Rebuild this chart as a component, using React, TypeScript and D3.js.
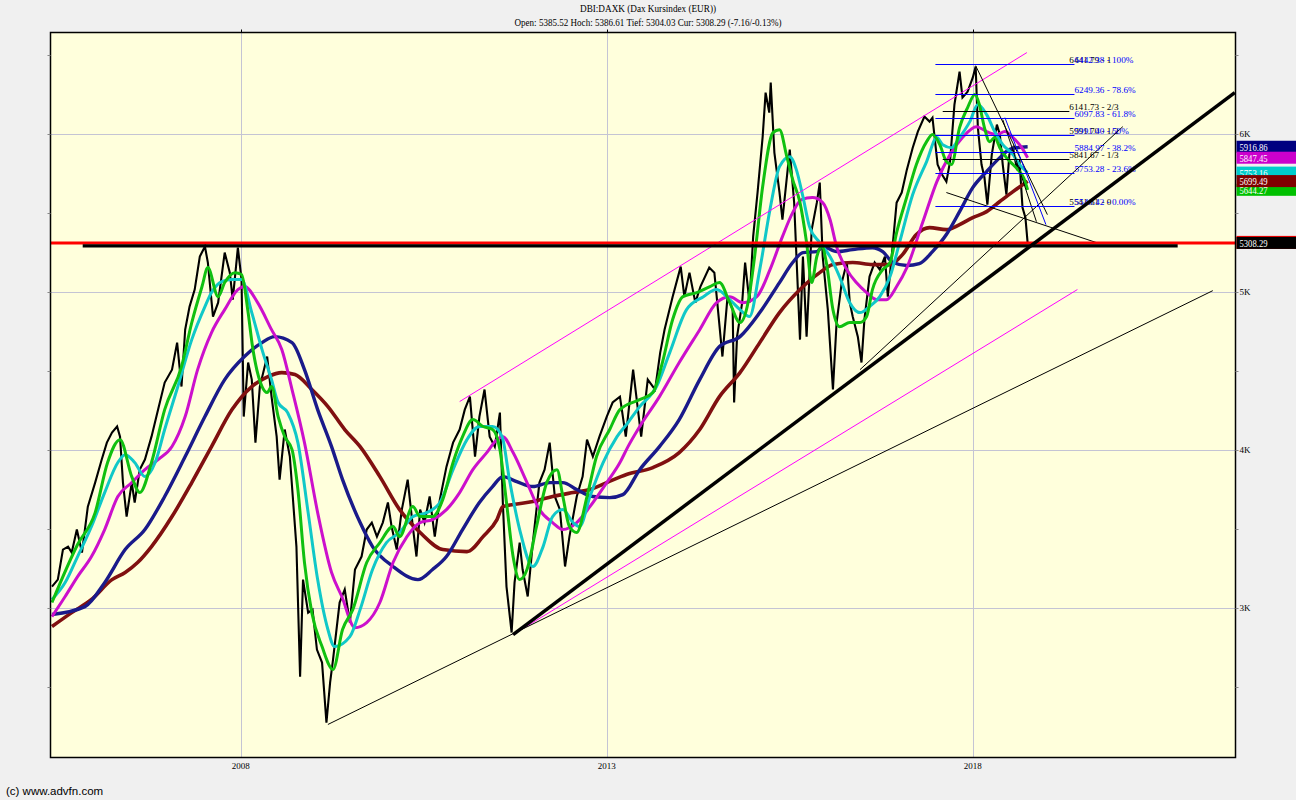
import { useEffect, useRef } from "react";
import * as d3 from "d3";

type Pt = [number, number];

// header texts
const titleLine = "DBI:DAXK (Dax Kursindex (EUR))";
const quoteLine = "Open: 5385.52 Hoch: 5386.61 Tief: 5304.03 Cur: 5308.29 (-7.16/-0.13%)";

// axis ticks
const yearTicks = [2008, 2013, 2018];
const gridValues = [3000, 4000, 5000, 6000];
const tickLabels = ["3K", "4K", "5K", "6K"];
const minorValues = [2500, 3000, 3500, 4000, 4500, 5000, 5500, 6000, 6500];

// price path [year, index points]
const price: Pt[] = [
  [2005.42, 3133], [2005.50, 3177], [2005.57, 3367], [2005.64, 3386], [2005.69, 3348], [2005.76, 3494],
  [2005.83, 3348], [2005.91, 3639], [2006.01, 3791], [2006.10, 3937], [2006.17, 4044], [2006.24, 4108],
  [2006.31, 4146], [2006.35, 4082], [2006.39, 3791], [2006.44, 3576], [2006.51, 3791], [2006.55, 3665],
  [2006.62, 3873], [2006.69, 3937], [2006.78, 4082], [2006.87, 4253], [2006.96, 4424], [2007.06, 4506],
  [2007.13, 4677], [2007.19, 4399], [2007.24, 4760], [2007.30, 4905], [2007.37, 5013], [2007.44, 5222],
  [2007.51, 5285], [2007.55, 5184], [2007.62, 4842], [2007.69, 4930], [2007.78, 5247], [2007.85, 5120],
  [2007.89, 4949], [2007.96, 5278], [2008.01, 5076], [2008.04, 4209], [2008.10, 4551], [2008.15, 4443],
  [2008.20, 4044], [2008.26, 4399], [2008.36, 4589], [2008.42, 4335], [2008.49, 4082], [2008.53, 3810],
  [2008.60, 4127], [2008.67, 3956], [2008.71, 3703], [2008.76, 3386], [2008.81, 2563], [2008.85, 3177],
  [2008.92, 2968], [2008.98, 2987], [2009.04, 2734], [2009.11, 2652], [2009.17, 2272], [2009.22, 2525],
  [2009.26, 2671], [2009.35, 3032], [2009.42, 3114], [2009.49, 2905], [2009.56, 3241], [2009.65, 3323],
  [2009.72, 3494], [2009.79, 3538], [2009.86, 3449], [2009.94, 3538], [2010.01, 3665], [2010.06, 3513],
  [2010.13, 3367], [2010.20, 3620], [2010.28, 3810], [2010.35, 3513], [2010.40, 3323], [2010.45, 3620],
  [2010.51, 3538], [2010.58, 3703], [2010.65, 3449], [2010.72, 3684], [2010.81, 3892], [2010.90, 4044],
  [2010.99, 4127], [2011.06, 4253], [2011.13, 4335], [2011.20, 3956], [2011.26, 4209], [2011.33, 4380],
  [2011.40, 4082], [2011.47, 4019], [2011.54, 4234], [2011.58, 3665], [2011.63, 3133], [2011.70, 2842],
  [2011.74, 3158], [2011.81, 3411], [2011.85, 3241], [2011.92, 3070], [2011.99, 3411], [2012.08, 3791],
  [2012.15, 3873], [2012.22, 4044], [2012.29, 3703], [2012.36, 3620], [2012.43, 3260], [2012.49, 3449],
  [2012.59, 3703], [2012.67, 3829], [2012.73, 4063], [2012.81, 3956], [2012.90, 4082], [2013.00, 4209],
  [2013.08, 4298], [2013.18, 4335], [2013.26, 4082], [2013.36, 4506], [2013.47, 4082], [2013.56, 4443],
  [2013.66, 4380], [2013.73, 4614], [2013.79, 4760], [2013.90, 4968], [2014.01, 5158], [2014.06, 4968],
  [2014.13, 5120], [2014.21, 4930], [2014.28, 5032], [2014.40, 5152], [2014.47, 5120], [2014.51, 4930],
  [2014.58, 4589], [2014.65, 4968], [2014.72, 4886], [2014.74, 4298], [2014.78, 4715], [2014.85, 4930],
  [2014.89, 5184], [2014.95, 4930], [2015.00, 5348], [2015.06, 5627], [2015.13, 5981], [2015.17, 6259],
  [2015.22, 6133], [2015.24, 6323], [2015.29, 5880], [2015.36, 5627], [2015.40, 5456], [2015.50, 5899],
  [2015.56, 5563], [2015.64, 4696], [2015.68, 5222], [2015.73, 4715], [2015.80, 5392], [2015.87, 5563],
  [2015.91, 5690], [2015.95, 5222], [2016.02, 4886], [2016.09, 4380], [2016.14, 4804], [2016.21, 5057],
  [2016.28, 5184], [2016.32, 4930], [2016.36, 4842], [2016.43, 4715], [2016.48, 4551], [2016.52, 4823],
  [2016.59, 5095], [2016.66, 5184], [2016.73, 5139], [2016.80, 5222], [2016.84, 4968], [2016.91, 5310],
  [2016.96, 5563], [2017.03, 5627], [2017.10, 5772], [2017.18, 5911], [2017.25, 6013], [2017.34, 6108],
  [2017.41, 6076], [2017.45, 6101], [2017.52, 5804], [2017.58, 5741], [2017.64, 5696], [2017.69, 5823],
  [2017.75, 6184], [2017.82, 6392], [2017.86, 6228], [2017.93, 6266], [2018.00, 6354], [2018.04, 6424],
  [2018.07, 6038], [2018.12, 5804], [2018.16, 5722], [2018.20, 5551], [2018.26, 5867], [2018.33, 6057],
  [2018.37, 5994], [2018.41, 5804], [2018.46, 5614], [2018.50, 5867], [2018.55, 5911], [2018.60, 5785],
  [2018.64, 5823], [2018.68, 5532], [2018.72, 5468], [2018.75, 5308],
];

// moving averages
const maGreen: Pt[] = [
  [2005.42, 3032], [2005.77, 3399], [2006.01, 3601], [2006.18, 3918], [2006.35, 4063], [2006.51, 3829],
  [2006.62, 3728], [2006.78, 3918], [2006.96, 4253], [2007.19, 4525], [2007.33, 4804], [2007.47, 5032],
  [2007.55, 5152], [2007.69, 4968], [2007.78, 5057], [2007.92, 5120], [2008.01, 5108], [2008.10, 4867],
  [2008.16, 4652], [2008.29, 4399], [2008.36, 4361], [2008.42, 4399], [2008.51, 4209], [2008.60, 4082],
  [2008.70, 4000], [2008.78, 3747], [2008.87, 3285], [2008.97, 2968], [2009.11, 2753], [2009.26, 2608],
  [2009.39, 2861], [2009.53, 2987], [2009.72, 3285], [2009.90, 3411], [2010.08, 3513], [2010.17, 3449],
  [2010.35, 3639], [2010.45, 3576], [2010.62, 3576], [2010.76, 3684], [2010.90, 3918], [2011.03, 4082],
  [2011.17, 4190], [2011.31, 4146], [2011.44, 4127], [2011.54, 4000], [2011.63, 3665], [2011.72, 3323],
  [2011.81, 3177], [2011.91, 3241], [2012.04, 3513], [2012.18, 3791], [2012.32, 3873], [2012.40, 3703],
  [2012.49, 3513], [2012.59, 3475], [2012.73, 3703], [2012.86, 3956], [2013.04, 4127], [2013.18, 4253],
  [2013.45, 4316], [2013.63, 4361], [2013.76, 4551], [2013.90, 4823], [2014.04, 4968], [2014.23, 4994],
  [2014.41, 5032], [2014.54, 5057], [2014.68, 4930], [2014.82, 4804], [2014.93, 4930], [2015.02, 5222],
  [2015.13, 5665], [2015.27, 6006], [2015.36, 6025], [2015.46, 5854], [2015.54, 5709], [2015.64, 5563],
  [2015.73, 5310], [2015.80, 5057], [2015.87, 5222], [2015.94, 5285], [2016.00, 5184], [2016.09, 4886],
  [2016.18, 4778], [2016.32, 4804], [2016.46, 4804], [2016.55, 4842], [2016.63, 5013], [2016.77, 5139],
  [2016.87, 5184], [2016.96, 5373], [2017.10, 5601], [2017.23, 5804], [2017.37, 5949], [2017.45, 5994],
  [2017.55, 5930], [2017.64, 5823], [2017.71, 5804], [2017.82, 6038], [2017.93, 6165], [2018.03, 6247],
  [2018.09, 6184], [2018.16, 6038], [2018.23, 5949], [2018.30, 5975], [2018.37, 5911], [2018.46, 5848],
  [2018.55, 5804], [2018.64, 5760], [2018.70, 5715], [2018.75, 5644],
];

const maCyan: Pt[] = [
  [2005.42, 3051], [2005.60, 3158], [2005.77, 3323], [2005.96, 3513], [2006.14, 3728], [2006.32, 3918],
  [2006.42, 3968], [2006.55, 3918], [2006.69, 3829], [2006.83, 3918], [2006.96, 4127], [2007.14, 4399],
  [2007.33, 4696], [2007.51, 4905], [2007.60, 4994], [2007.74, 5063], [2007.88, 5076], [2008.01, 5076],
  [2008.15, 4867], [2008.29, 4633], [2008.42, 4443], [2008.51, 4298], [2008.64, 4234], [2008.78, 4044],
  [2008.92, 3601], [2009.05, 3177], [2009.19, 2861], [2009.28, 2753], [2009.49, 2816], [2009.63, 2987],
  [2009.80, 3241], [2009.99, 3411], [2010.17, 3475], [2010.35, 3576], [2010.54, 3601], [2010.72, 3665],
  [2010.90, 3873], [2011.09, 4063], [2011.26, 4146], [2011.44, 4146], [2011.57, 4082], [2011.67, 3810],
  [2011.81, 3494], [2011.99, 3260], [2012.13, 3386], [2012.26, 3576], [2012.40, 3620], [2012.54, 3538],
  [2012.63, 3513], [2012.77, 3703], [2012.95, 3918], [2013.14, 4082], [2013.29, 4171], [2013.45, 4272],
  [2013.68, 4399], [2013.86, 4614], [2014.09, 4886], [2014.32, 4968], [2014.50, 5013], [2014.68, 4949],
  [2014.82, 4886], [2014.95, 4842], [2015.09, 5139], [2015.23, 5519], [2015.36, 5791], [2015.50, 5854],
  [2015.59, 5772], [2015.68, 5601], [2015.77, 5411], [2015.91, 5310], [2016.05, 5222], [2016.18, 5095],
  [2016.32, 4930], [2016.46, 4867], [2016.59, 4905], [2016.73, 4968], [2016.87, 5095], [2017.00, 5310],
  [2017.18, 5614], [2017.37, 5823], [2017.51, 5975], [2017.59, 5930], [2017.71, 5911], [2017.82, 5975],
  [2017.96, 6076], [2018.07, 6184], [2018.19, 6120], [2018.30, 6013], [2018.41, 5930], [2018.55, 5867],
  [2018.64, 5804], [2018.75, 5753],
];

const maMagenta: Pt[] = [
  [2005.42, 2943], [2005.60, 3070], [2005.77, 3196], [2005.96, 3323], [2006.14, 3494], [2006.32, 3703],
  [2006.51, 3791], [2006.69, 3873], [2006.87, 3937], [2007.06, 4019], [2007.24, 4209], [2007.41, 4506],
  [2007.60, 4741], [2007.78, 4886], [2007.96, 5013], [2008.05, 5032], [2008.23, 4930], [2008.42, 4759],
  [2008.56, 4633], [2008.70, 4380], [2008.87, 4044], [2009.05, 3601], [2009.24, 3222], [2009.38, 3070],
  [2009.56, 2873], [2009.72, 2905], [2009.90, 3032], [2010.08, 3285], [2010.27, 3449], [2010.45, 3538],
  [2010.62, 3557], [2010.81, 3620], [2010.99, 3728], [2011.17, 3873], [2011.36, 3981], [2011.50, 4063],
  [2011.58, 4082], [2011.72, 3981], [2011.91, 3791], [2012.08, 3620], [2012.26, 3538], [2012.40, 3494],
  [2012.59, 3538], [2012.77, 3639], [2013.00, 3791], [2013.18, 3918], [2013.29, 4019], [2013.45, 4146],
  [2013.72, 4335], [2013.99, 4551], [2014.27, 4759], [2014.50, 4930], [2014.68, 4968], [2014.86, 4930],
  [2015.05, 4968], [2015.23, 5139], [2015.40, 5348], [2015.54, 5500], [2015.66, 5582], [2015.81, 5595],
  [2015.95, 5563], [2016.05, 5456], [2016.14, 5285], [2016.28, 5139], [2016.41, 5057], [2016.55, 4994],
  [2016.69, 4949], [2016.82, 4949], [2016.96, 5032], [2017.10, 5152], [2017.32, 5443], [2017.51, 5696],
  [2017.69, 5867], [2017.86, 5975], [2018.05, 6044], [2018.19, 6013], [2018.33, 5994], [2018.44, 6013],
  [2018.55, 5975], [2018.67, 5911], [2018.75, 5847],
];

const maNavy: Pt[] = [
  [2005.42, 2956], [2005.87, 3006], [2006.14, 3158], [2006.42, 3367], [2006.69, 3494], [2006.96, 3703],
  [2007.24, 3956], [2007.51, 4209], [2007.78, 4443], [2008.05, 4589], [2008.29, 4677], [2008.46, 4715],
  [2008.70, 4677], [2008.87, 4506], [2009.05, 4253], [2009.24, 4019], [2009.39, 3810], [2009.63, 3538],
  [2009.80, 3386], [2010.08, 3260], [2010.42, 3177], [2010.62, 3241], [2010.81, 3323], [2011.03, 3494],
  [2011.26, 3665], [2011.44, 3766], [2011.58, 3829], [2011.77, 3797], [2011.99, 3766], [2012.22, 3791],
  [2012.40, 3791], [2012.59, 3747], [2012.81, 3703], [2013.04, 3696], [2013.22, 3715], [2013.45, 3873],
  [2013.72, 4019], [2013.99, 4190], [2014.27, 4443], [2014.54, 4652], [2014.82, 4715], [2015.09, 4867],
  [2015.36, 5057], [2015.54, 5184], [2015.68, 5247], [2015.87, 5253], [2015.95, 5285], [2016.14, 5253],
  [2016.36, 5266], [2016.63, 5278], [2016.77, 5253], [2016.91, 5184], [2017.10, 5165], [2017.27, 5177],
  [2017.45, 5253], [2017.64, 5361], [2017.82, 5506], [2018.00, 5658], [2018.19, 5760], [2018.37, 5848],
  [2018.50, 5899], [2018.60, 5911], [2018.75, 5917],
];

const maMaroon: Pt[] = [
  [2005.42, 2880], [2005.69, 2968], [2005.96, 3051], [2006.24, 3177], [2006.42, 3222], [2006.59, 3285],
  [2006.78, 3386], [2007.06, 3576], [2007.33, 3791], [2007.60, 4019], [2007.88, 4253], [2008.15, 4399],
  [2008.37, 4462], [2008.56, 4487], [2008.74, 4475], [2008.97, 4380], [2009.19, 4272], [2009.42, 4127],
  [2009.63, 4019], [2009.90, 3829], [2010.17, 3620], [2010.45, 3475], [2010.76, 3367], [2011.09, 3354],
  [2011.31, 3449], [2011.50, 3557], [2011.58, 3639], [2011.72, 3652], [2011.99, 3671], [2012.26, 3703],
  [2012.54, 3728], [2012.77, 3747], [2013.00, 3791], [2013.27, 3842], [2013.63, 3886], [2013.99, 3981],
  [2014.27, 4127], [2014.54, 4335], [2014.82, 4487], [2015.09, 4677], [2015.36, 4867], [2015.64, 5013],
  [2015.91, 5120], [2016.09, 5171], [2016.36, 5184], [2016.63, 5171], [2016.87, 5171], [2017.04, 5234],
  [2017.23, 5361], [2017.41, 5405], [2017.64, 5392], [2017.82, 5424], [2018.00, 5468], [2018.19, 5506],
  [2018.37, 5570], [2018.55, 5633], [2018.75, 5699],
];

// last values shown on the right axis
const boxValues = [5916.86, 5847.45, 5753.16, 5644.27, 5699.49];
const boxColors = ["#000080", "#cc00cc", "#00cccc", "#00c000", "#800000"];
const currentValue = 5308.29;

// fibonacci retracement (blue) and thirds (black)
const fibBlueLevels = [6442.38, 6249.36, 6097.83, 5991.40, 5884.97, 5753.28, 5540.42];
const fibBlueNames = ["100%", "78.6%", "61.8%", "50%", "38.2%", "23.6%", "0.00%"];
const fibBlackLevels = [6441.79, 6141.73, 5991.70, 5841.67, 5541.61];
const fibBlackNames = ["1", "2/3", "1/2", "1/3", "0"];

// drawn trend lines
const thickTrend: Pt[] = [[2011.72, 2829], [2021.58, 6259]];
const thinTrends: Pt[][] = [
  [[2009.19, 2260], [2021.28, 5006]],
  [[2016.46, 4506], [2020.05, 6044]],
  [[2018.04, 6430], [2019.02, 5487]],
  [[2018.41, 6089], [2018.87, 5443]],
  [[2017.64, 5627], [2019.73, 5304]],
];
const blueTrend: Pt[] = [[2018.44, 6101], [2019.00, 5424]];
const channelLines: Pt[][] = [
  [[2010.99, 4304], [2018.74, 6513]],
  [[2011.72, 2829], [2019.43, 5013]],
];
const resistance: Pt[] = [[2005.84, 5290], [2020.80, 5290]];

const serif = "'Liberation Serif', 'Times New Roman', serif";
const sans = "'Liberation Sans', Arial, sans-serif";

export default function App() {
  const svgRef = useRef<SVGSVGElement>(null);

  useEffect(() => {
    const svg = d3.select(svgRef.current);
    svg.selectAll("*").remove();

    const left = 50.5, right = 1235.5, top = 32.5, bottom = 757.5;
    const x = d3.scaleLinear().domain([2005.4, 2021.59]).range([left, right]);
    const y = d3.scaleLinear().domain([2051, 6640]).range([bottom, top]);

    svg.append("rect").attr("width", 1296).attr("height", 800).attr("fill", "#f0f0f0");
    svg.append("defs").append("clipPath").attr("id", "plotClip")
      .append("rect").attr("x", left).attr("y", top).attr("width", right - left).attr("height", bottom - top);

    svg.append("rect")
      .attr("x", left).attr("y", top).attr("width", right - left).attr("height", bottom - top)
      .attr("fill", "#ffffdc");

    // grid
    const grid = svg.append("g").attr("stroke", "#c4c4d4").attr("stroke-width", 1);
    gridValues.forEach(v => {
      grid.append("line").attr("x1", left).attr("x2", right)
        .attr("y1", Math.round(y(v)) + 0.5).attr("y2", Math.round(y(v)) + 0.5);
    });
    yearTicks.forEach(t => {
      grid.append("line").attr("y1", top).attr("y2", bottom)
        .attr("x1", Math.round(x(t)) + 0.5).attr("x2", Math.round(x(t)) + 0.5);
    });

    const plot = svg.append("g").attr("clip-path", "url(#plotClip)");

    // price
    const priceLine = d3.line<Pt>().x(d => x(d[0])).y(d => y(d[1]));
    plot.append("path").attr("d", priceLine(price)).attr("fill", "none")
      .attr("stroke", "#000").attr("stroke-width", 2.1).attr("stroke-linejoin", "miter");

    // moving averages
    const maLine = d3.line<Pt>().x(d => x(d[0])).y(d => y(d[1])).curve(d3.curveMonotoneX);
    const mas: [Pt[], string, number][] = [
      [maMaroon, "#801010", 3.6],
      [maNavy, "#1a1a8a", 3.4],
      [maMagenta, "#cc10cc", 3],
      [maCyan, "#10c8c8", 3],
      [maGreen, "#10c010", 3],
    ];
    mas.forEach(([data, color, w]) => {
      plot.append("path").attr("d", maLine(data)).attr("fill", "none")
        .attr("stroke", color).attr("stroke-width", w).attr("stroke-linejoin", "round");
    });

    // trend lines
    const seg = (p: Pt[], color: string, w: number) =>
      plot.append("line")
        .attr("x1", x(p[0][0])).attr("y1", y(p[0][1]))
        .attr("x2", x(p[1][0])).attr("y2", y(p[1][1]))
        .attr("stroke", color).attr("stroke-width", w);

    channelLines.forEach(p => seg(p, "#ff00ff", 1));
    thinTrends.forEach(p => seg(p, "#000", 1));
    seg(blueTrend, "#0000ff", 1);

    // fib levels
    fibBlackLevels.forEach((v, i) => {
      const yy = Math.round(y(v)) + 0.5;
      plot.append("line").attr("x1", x(2017.59)).attr("x2", x(2019.32))
        .attr("y1", yy).attr("y2", yy).attr("stroke", "#000").attr("stroke-width", 1);
      plot.append("text").attr("x", x(2019.32)).attr("y", yy - 2)
        .attr("font-family", serif).attr("font-size", 9.2).attr("fill", "#000")
        .text(`${v.toFixed(2)} - ${fibBlackNames[i]}`);
    });
    fibBlueLevels.forEach((v, i) => {
      const yy = Math.round(y(v)) + 0.5;
      plot.append("line").attr("x1", x(2017.49)).attr("x2", x(2019.39))
        .attr("y1", yy).attr("y2", yy).attr("stroke", "#0000ff").attr("stroke-width", 1);
      plot.append("text").attr("x", x(2019.39)).attr("y", yy - 2)
        .attr("font-family", serif).attr("font-size", 9.2).attr("fill", "#0000ff")
        .text(`${v.toFixed(2)} - ${fibBlueNames[i]}`);
    });

    // horizontal levels and main trend
    plot.append("line").attr("x1", left).attr("x2", right)
      .attr("y1", y(currentValue)).attr("y2", y(currentValue))
      .attr("stroke", "#ff0000").attr("stroke-width", 3);
    seg(resistance, "#000", 3.2);
    seg(thickTrend, "#000", 3.5);

    // frame
    svg.append("rect")
      .attr("x", left).attr("y", top).attr("width", right - left).attr("height", bottom - top)
      .attr("fill", "none").attr("stroke", "#000").attr("stroke-width", 1.5);

    // minor ticks on both sides
    minorValues.forEach(v => {
      const yy = Math.round(y(v)) + 0.5;
      svg.append("line").attr("x1", left - 3).attr("x2", left).attr("y1", yy).attr("y2", yy)
        .attr("stroke", "#888").attr("stroke-width", 1);
      svg.append("line").attr("x1", right).attr("x2", right + 3).attr("y1", yy).attr("y2", yy)
        .attr("stroke", "#888").attr("stroke-width", 1);
    });
    yearTicks.forEach(t => {
      svg.append("line").attr("x1", Math.round(x(t)) + 0.5).attr("x2", Math.round(x(t)) + 0.5)
        .attr("y1", top - 3).attr("y2", top).attr("stroke", "#000");
    });

    // axis labels
    gridValues.forEach((v, i) => {
      svg.append("text").attr("x", right + 4).attr("y", y(v) + 3)
        .attr("font-family", serif).attr("font-size", 9).attr("fill", "#000")
        .text(tickLabels[i]);
    });
    yearTicks.forEach(t => {
      svg.append("text").attr("x", x(t)).attr("y", 769).attr("text-anchor", "middle")
        .attr("font-family", serif).attr("font-size", 9).attr("fill", "#000")
        .text(String(t));
    });

    // last value boxes
    boxValues.forEach((v, i) => {
      const yy = y(v);
      svg.append("rect").attr("x", right + 1).attr("y", yy - 6).attr("width", 60).attr("height", 12)
        .attr("fill", boxColors[i]);
      svg.append("text").attr("x", right + 4).attr("y", yy + 4)
        .attr("textLength", 28).attr("lengthAdjust", "spacingAndGlyphs")
        .attr("font-family", serif).attr("font-size", 10).attr("fill", "#fff")
        .text(v.toFixed(2));
    });
    const cy = y(currentValue);
    svg.append("rect").attr("x", right + 1).attr("y", cy - 7).attr("width", 60).attr("height", 13)
      .attr("fill", "#ff0000");
    svg.append("rect").attr("x", right + 1).attr("y", cy - 6).attr("width", 60).attr("height", 12)
      .attr("fill", "#000");
    svg.append("text").attr("x", right + 4).attr("y", cy + 4)
      .attr("textLength", 28).attr("lengthAdjust", "spacingAndGlyphs")
      .attr("font-family", serif).attr("font-size", 10).attr("fill", "#fff")
      .text(currentValue.toFixed(2));

    // header and footer
    svg.append("text").attr("x", 648).attr("y", 12).attr("text-anchor", "middle")
      .attr("textLength", 136).attr("lengthAdjust", "spacingAndGlyphs")
      .attr("font-family", serif).attr("font-size", 10).attr("fill", "#000").text(titleLine);
    svg.append("text").attr("x", 648).attr("y", 25.5).attr("text-anchor", "middle")
      .attr("textLength", 267).attr("lengthAdjust", "spacingAndGlyphs")
      .attr("font-family", serif).attr("font-size", 10).attr("fill", "#000").text(quoteLine);
    svg.append("text").attr("x", 6).attr("y", 795)
      .attr("font-family", sans).attr("font-size", 11.5).attr("fill", "#000")
      .text("(c) www.advfn.com");
  }, []);

  return (
    <svg ref={svgRef} width={1296} height={800}
      style={{ position: "absolute", left: 0, top: 0, display: "block" }} />
  );
}
